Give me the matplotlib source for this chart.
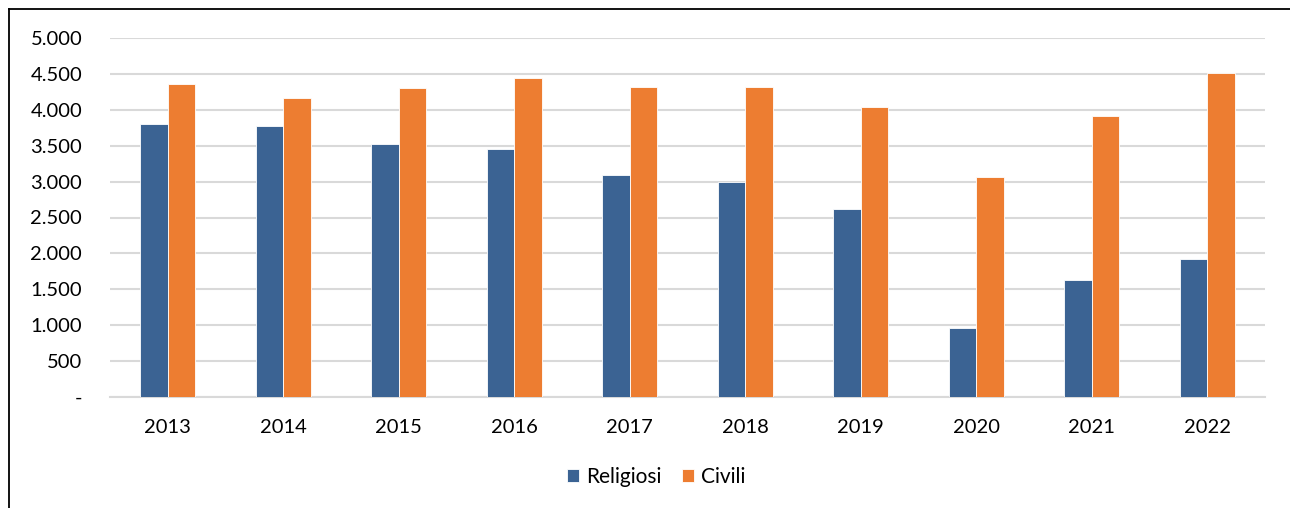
import matplotlib.pyplot as plt
import numpy as np
from matplotlib.lines import Line2D

years = ['2013', '2014', '2015', '2016', '2017', '2018', '2019', '2020', '2021', '2022']
religiosi = [3807, 3779, 3528, 3450, 3092, 2990, 2618, 965, 1625, 1922]
civili = [4359, 4169, 4304, 4439, 4313, 4318, 4043, 3064, 3909, 4508]

plt.rcParams['font.family'] = ['Lato', 'DejaVu Sans']

fig = plt.figure(figsize=(12.9, 5.08), dpi=100)
ax = fig.add_axes([110 / 1290, 111 / 508, 1155 / 1290, 359 / 508])

x = np.arange(len(years))
w = 0.24
ax.bar(x - w / 2, religiosi, w, color='#3B6393', edgecolor='white', linewidth=0.6,
       label='Religiosi', zorder=3)
ax.bar(x + w / 2, civili, w, color='#ED7D31', edgecolor='white', linewidth=0.6,
       label='Civili', zorder=3)

ax.set_xlim(-0.5, len(years) - 0.5)
ax.set_ylim(0, 5000)
yt = np.arange(0, 5001, 500)
ax.set_yticks(yt)
ax.set_yticklabels(['-' if v == 0 else f'{v:,}'.replace(',', '.') for v in yt])
ax.set_xticks(x)
ax.set_xticklabels(years)
ax.tick_params(axis='both', length=0, labelsize=14.5, colors='#000000')
ax.tick_params(axis='y', pad=20)
ax.tick_params(axis='x', pad=16)

ax.grid(axis='y', color='#D9D9D9', linewidth=1.5, zorder=0)
for s in ['top', 'right', 'left']:
    ax.spines[s].set_visible(False)
ax.spines['bottom'].set_color('#D9D9D9')
ax.spines['bottom'].set_linewidth(1.5)

fig.legend(loc='center', bbox_to_anchor=(656 / 1290, 1 - 477 / 508), ncol=2,
           frameon=False, fontsize=15, handlelength=0.6, handleheight=0.6,
           handletextpad=0.3, columnspacing=1.0)

# frame of the chart area
fig.add_artist(Line2D([9 / 1290, 9 / 1290], [0, 1 - 9 / 508], color='black', linewidth=1.3,
                      transform=fig.transFigure))
fig.add_artist(Line2D([9 / 1290, 1], [1 - 9 / 508, 1 - 9 / 508], color='black', linewidth=1.3,
                      transform=fig.transFigure))

fig.savefig('out.png', dpi=100)
